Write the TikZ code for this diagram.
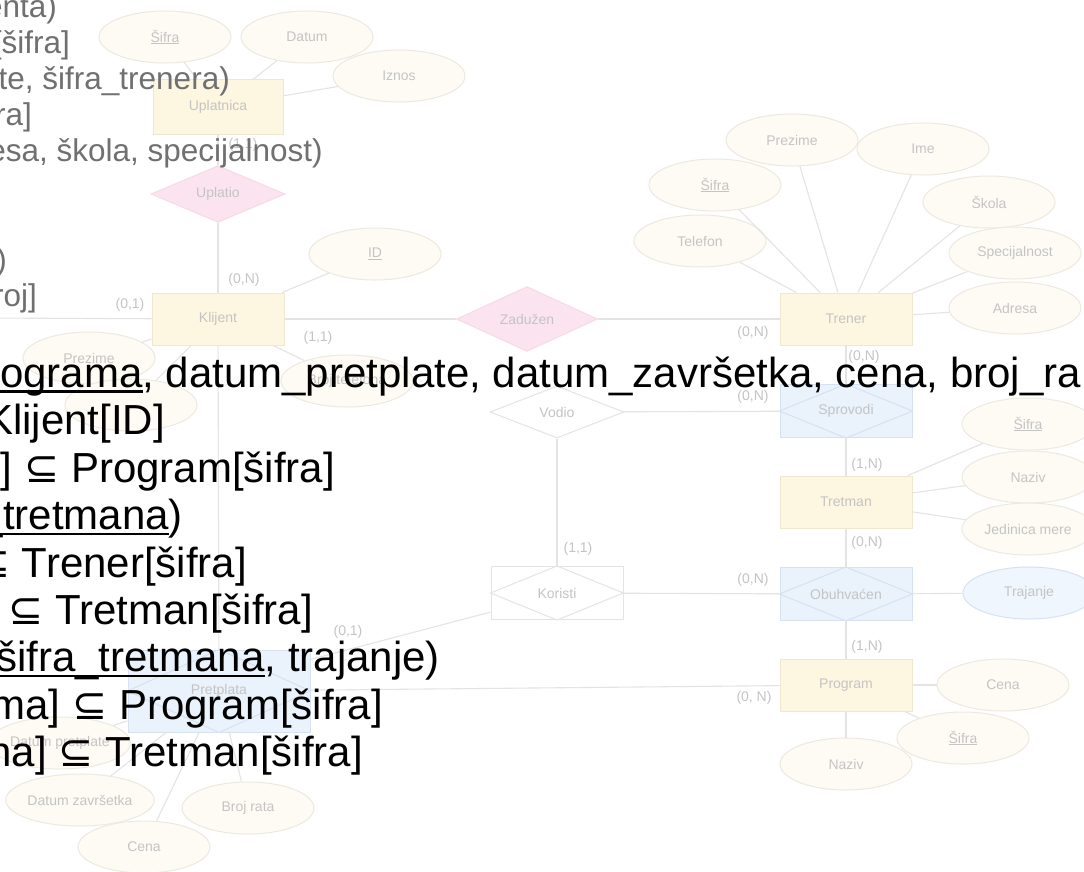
\documentclass[tikz,border=0pt]{standalone}
\usepackage{fontspec}
\setmainfont{Liberation Sans}
\newfontfamily\symfont{DejaVu Sans}
\usetikzlibrary{shapes.geometric}
\definecolor{erline}{RGB}{228,228,228}
\definecolor{erlabel}{RGB}{196,196,196}
\definecolor{entfill}{RGB}{253,246,224}
\definecolor{entdraw}{RGB}{240,232,206}
\definecolor{attfill}{RGB}{253,251,244}
\definecolor{attdraw}{RGB}{236,233,224}
\definecolor{relfill}{RGB}{251,228,239}
\definecolor{reldraw}{RGB}{246,218,230}
\definecolor{asofill}{RGB}{234,242,252}
\definecolor{asodraw}{RGB}{214,226,241}
\definecolor{oldtext}{RGB}{112,112,112}
\newcommand{\keyline}[1]{\setbox0\hbox{#1}\rlap{\rule[-5pt]{\wd0}{2.2pt}}\box0}
\newcommand{\subrel}{{\symfont ⊆}}

\begin{document}
\begin{tikzpicture}[x=1pt,y=-1pt,
  erfont/.style={font=\fontsize{14}{16}\selectfont, text=erlabel},
  ent/.style={erfont, rectangle, draw=entdraw, fill=entfill, line width=1pt,
    minimum width=132pt, minimum height=52pt, inner sep=0pt},
  rel/.style={erfont, diamond, draw=reldraw, fill=relfill, line width=1pt,
    minimum width=134pt, minimum height=52pt, inner sep=0pt},
  aso/.style={erfont, rectangle, draw=asodraw, fill=asofill, line width=1pt,
    minimum width=132pt, minimum height=53pt, inner sep=0pt},
  attr/.style={erfont, ellipse, draw=attdraw, fill=attfill, line width=1pt,
    minimum width=132pt, minimum height=52pt, inner sep=0pt},
  card/.style={erfont, inner sep=0pt},
  erlink/.style={draw=erline, line width=1.1pt},
  currow/.style={font=\fontsize{42}{48}\selectfont, text=black, inner sep=0pt},
  prevrow/.style={font=\fontsize{31.5}{36}\selectfont, text=oldtext, inner sep=0pt}]
  \useasboundingbox (0,0) rectangle (1084,871);
  \fill[white] (0,0) rectangle (1084,871);
  \clip (0,0) rectangle (1084,871);

  \node[ent, minimum width=130pt, minimum height=55pt] (upl) at (218,107) {Uplatnica};
  \node[ent] (kli) at (218,319) {Klijent};
  \node[ent] (tre) at (846,319) {Trener};
  \node[ent] (trt) at (846,502) {Tretman};
  \node[ent] (prg) at (846,685) {Program};
  \node[rel] (upo) at (218,194) {Uplatio};
  \node[rel, minimum width=141pt] (zad) at (527,319) {Zadužen};
  \node[rel, draw=erline, fill=white] (vod) at (557,412) {Vodio};
  \node[aso] (spr) at (846,411) {Sprovodi};
  \node[aso] (obu) at (846,594) {Obuhvaćen};
  \node[aso, draw=erline, fill=white] (kor) at (557,593) {Koristi};
  \node[aso, minimum width=182pt, minimum height=82pt] (pre) at (219,691) {Pretplata};
  \foreach \n in {spr,obu,pre} {
    \draw[asodraw, line width=1pt] (\n.west) -- (\n.north) -- (\n.east) -- (\n.south) -- cycle;
  }
  \draw[erline, line width=1pt] (kor.west) -- (kor.north) -- (kor.east) -- (kor.south) -- cycle;

  \foreach \n/\x/\y/\t in {aus/165/37/{\underline{Šifra}}, aud/307/37/Datum, aui/399/76/Iznos,
      kid/375/254/{\underline{ID}}, kpr/89/358/Prezime, kim/131/405/{}, kbr/347/381/{Broj telefona},
      tpr/792/140/Prezime, tim/923/149/Ime, tsi/715/185/{\underline{Šifra}}, tte/700/241/Telefon,
      tsk/989/202/Škola, tsp/1015/253/Specijalnost, tad/1015/308/Adresa,
      rsi/1028/424/{\underline{Šifra}}, rna/1028/477/Naziv, rje/1028/529/{Jedinica mere},
      pce/1003/685/Cena, psi/963/738/{\underline{Šifra}}, pna/846/764/Naziv,
      pdp/60/743/{Datum pretplate}, pdz/80/800/{Datum završetka}, pcn/144/847/Cena, pbr/248/808/{Broj rata}} {
    \node[attr] (\n) at (\x,\y) {\t};
  }
  \node[attr, draw=asodraw, fill=asofill!70!white] (otr) at (1029,593) {Trajanje};

  \coordinate (kout) at (-20,318);
  \foreach \a/\b in {upl/aus, upl/aud, upl/aui, upl/upo, upo/kli, kli/kid, kli/kpr, kli/kim, kli/kbr,
      kli/kout, kli/zad, zad/tre, tre/tpr, tre/tim, tre/tsi, tre/tte, tre/tsk, tre/tsp, tre/tad,
      tre/spr, spr/trt, trt/rsi, trt/rna, trt/rje, trt/obu, obu/otr, obu/prg, prg/pce, prg/psi, prg/pna,
      vod/spr, vod/kor, kor/obu, kli/pre, pre/prg, pre/pdp, pre/pdz, pre/pcn, pre/pbr} {
    \draw[erlink] (\a) -- (\b);
  }
  \draw[erlink] (kor.196) -- (pre.19);

  \foreach \n/\x/\y/\t in {c1/243/145/{(1,1)}, c2/244/280/{(0,N)}, c3/130/305/{(0,1)}, c4/318/338/{(1,1)},
      c5/753/333/{(0,N)}, c6/864/357/{(0,N)}, c7/753/397/{(0,N)}, c8/867/465/{(1,N)},
      c9/867/543/{(0,N)}, c10/578/549/{(1,1)}, c11/753/580/{(0,N)}, c12/867/647/{(1,N)},
      c13/754/698/{(0, N)}, c14/348/632/{(0,1)}} {
    \node[card] (\n) at (\x,\y) {\t};
  }

  \node[prevrow, anchor=base east] (p0) at (57,17) {enta)};
  \node[prevrow, anchor=base east] (p1) at (70,53.2) {[šifra]};
  \node[prevrow, anchor=base east] (p2) at (230,89.4) {te, šifra\_trenera)};
  \node[prevrow, anchor=base east] (p3) at (32,125.6) {ra]};
  \node[prevrow, anchor=base east] (p4) at (323,161.8) {esa, škola, specijalnost)};
  \node[prevrow, anchor=base east] (p7) at (7,270.4) {)};
  \node[prevrow, anchor=base east] (p8) at (37,306.6) {roj]};

  \node[currow, anchor=base west] (r1) at (0,387.5) {\keyline{ograma}, datum\_pretplate, datum\_završetka, cena, broj\_ra};
  \node[currow, anchor=base east] (r2) at (165,434.9) {Klijent[ID]};
  \node[currow, anchor=base east] (r3) at (335,482.3) {] \subrel{} Program[šifra]};
  \node[currow, anchor=base east] (r4) at (183,529.7) {\keyline{\_tretmana})};
  \node[currow, anchor=base east] (r5) at (247,577.1) {\subrel{} Trener[šifra]};
  \node[currow, anchor=base east] (r6) at (313,624.5) {\subrel{} Tretman[šifra]};
  \node[currow, anchor=base east] (r7) at (440,671.9) {\keyline{šifra\_tretmana}, trajanje)};
  \node[currow, anchor=base east] (r8) at (383,719.3) {ma] \subrel{} Program[šifra]};
  \node[currow, anchor=base east] (r9) at (363,766.7) {na] \subrel{} Tretman[šifra]};
\end{tikzpicture}
\end{document}
